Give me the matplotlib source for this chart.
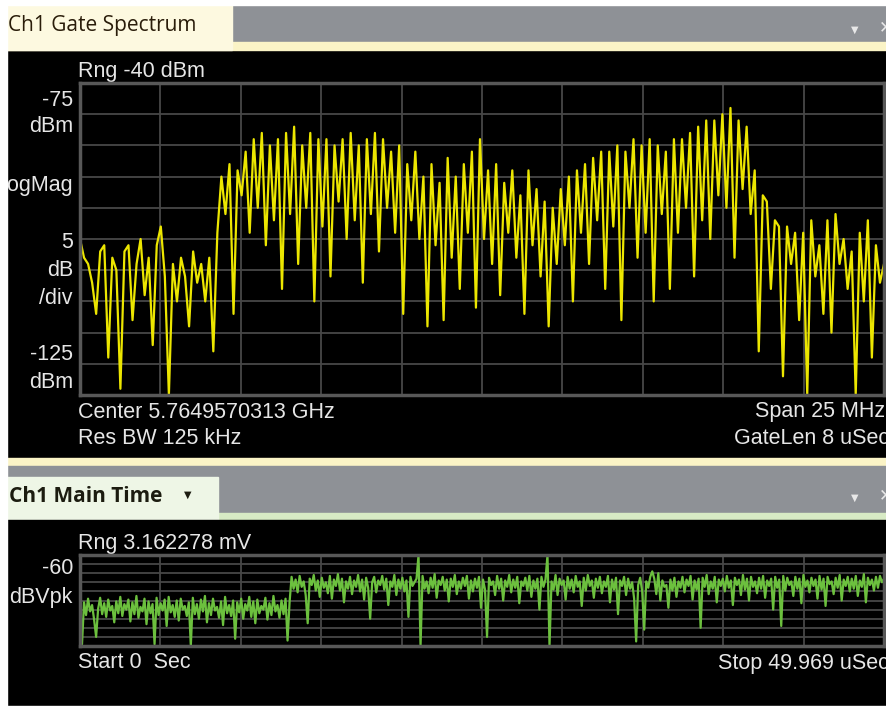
import numpy as np
import matplotlib.pyplot as plt
from matplotlib.patches import Rectangle

W, H = 887, 707

# spectrum trace, dBm, evenly spaced over the 25 MHz span
spec_dbm = [-100, -103, -104, -107, -112, -102, -101, -119, -103, -105,
            -124, -102, -101, -113, -104, -100, -109, -103, -117, -101,
            -98, -106, -125, -104, -110, -103, -106, -114, -102, -107,
            -104, -110, -103, -118, -99, -90, -96, -88, -112, -89,
            -93, -86, -99, -84, -95, -83, -101, -85, -97, -84,
            -108, -83, -96, -82, -104, -85, -95, -83, -110, -84,
            -98, -84, -106, -85, -94, -84, -100, -83, -97, -85,
            -107, -84, -96, -83, -102, -84, -95, -86, -99, -85,
            -112, -88, -97, -86, -100, -90, -114, -88, -101, -91,
            -113, -87, -103, -90, -108, -88, -99, -86, -111, -84,
            -100, -89, -104, -88, -109, -91, -99, -89, -103, -93,
            -112, -89, -101, -92, -106, -94, -114, -95, -104, -92,
            -101, -90, -110, -89, -99, -88, -104, -87, -97, -86,
            -108, -86, -98, -85, -113, -86, -95, -84, -103, -85,
            -99, -84, -110, -85, -96, -86, -108, -84, -99, -84,
            -95, -83, -106, -82, -97, -81, -100, -81, -93, -80,
            -95, -79, -103, -81, -92, -82, -96, -89, -118, -93,
            -94, -108, -97, -98, -122, -98, -104, -99, -113, -99,
            -125, -97, -106, -101, -112, -97, -115, -96, -104, -100,
            -108, -102, -125, -99, -110, -97, -119, -101, -107, -104]

# main time trace, dBVpk, evenly spaced over 0 .. 49.969 us
time_dbv = [
    -110, -158, -112, -126, -108, -122, -115, -131, -150, -119, -107, -125, -113, -128, -109, -121, -116, -134, -111, -124,
    -106, -127, -114, -120, -109, -133, -112, -125, -105, -129, -117, -122, -108, -136, -111, -124, -114, -158, -107, -126,
    -113, -121, -109, -138, -106, -123, -115, -128, -110, -132, -108, -120, -116, -127, -112, -160, -107, -125, -114, -130,
    -109, -122, -105, -134, -113, -126, -108, -121, -117, -129, -111, -137, -106, -124, -115, -127, -110, -152, -112, -123,
    -108, -130, -114, -121, -106, -128, -111, -135, -109, -124, -116, -120, -107, -131, -113, -126, -105, -122, -115, -129,
    -110, -125, -108, -154, -112, -84, -97, -87, -101, -83, -95, -89, -104, -135, -86, -93, -82, -99, -88, -106,
    -85, -96, -90, -102, -83, -108, -87, -94, -81, -99, -86, -112, -89, -97, -84, -103, -88, -95, -82, -100,
    -87, -109, -85, -96, -130, -90, -84, -101, -88, -93, -83, -98, -86, -115, -89, -95, -82, -104, -87, -97,
    -85, -100, -88, -128, -84, -94, -90, -86, -60, -160, -83, -97, -89, -102, -85, -96, -81, -107, -88, -93,
    -84, -99, -87, -111, -86, -95, -82, -103, -89, -97, -85, -94, -83, -108, -88, -100, -86, -96, -84, -118,
    -87, -98, -150, -85, -93, -89, -104, -83, -97, -86, -110, -88, -95, -82, -101, -87, -96, -84, -113, -89,
    -94, -85, -99, -83, -106, -88, -97, -86, -120, -84, -95, -87, -60, -160, -89, -98, -82, -104, -86, -93,
    -88, -109, -84, -97, -87, -101, -83, -95, -89, -116, -85, -99, -82, -94, -88, -107, -86, -96, -84, -102,
    -89, -95, -83, -112, -87, -98, -85, -125, -88, -94, -84, -104, -86, -97, -90, -108, -155, -93, -85, -100,
    -142, -89, -96, -84, -78, -86, -103, -80, -110, -88, -95, -93, -118, -87, -99, -85, -106, -89, -96, -84,
    -101, -87, -94, -83, -109, -88, -98, -86, -140, -85, -95, -82, -103, -89, -97, -84, -112, -87, -94, -86,
    -100, -83, -96, -88, -115, -85, -93, -87, -104, -82, -98, -86, -110, -84, -95, -89, -102, -85, -97, -83,
    -107, -88, -94, -86, -120, -84, -96, -87, -138, -83, -99, -85, -93, -89, -105, -84, -97, -86, -113, -82,
    -95, -88, -101, -85, -94, -87, -108, -83, -98, -86, -116, -84, -92, -89, -103, -85, -96, -82, -110, -87,
    -94, -84, -100, -86, -97, -83, -105, -88, -95, -81, -112, -85, -93, -87, -99, -84, -96, -83, -90, -86]

span_mhz = 25.0
stop_us = 49.969

def pix_axes(fig, x0, y0, x1, y1, z=1):
    return fig.add_axes([x0 / W, 1 - y1 / H, (x1 - x0) / W, (y1 - y0) / H], zorder=z)

fig = plt.figure(figsize=(W / 100, H / 100), dpi=100)
fig.patch.set_facecolor('white')

bg = pix_axes(fig, 0, 0, W, H, 0)
bg.set_xlim(0, W)
bg.set_ylim(H, 0)
bg.axis('off')

# window chrome
bg.add_patch(Rectangle((7, 50), 880, 408, color='black'))
bg.add_patch(Rectangle((7, 5), 880, 37, color='#8e9196'))
bg.add_patch(Rectangle((7, 42), 880, 8, color='#fbf4c6'))
bg.add_patch(Rectangle((5, 5), 227, 45, color='#fdf9e0'))
bg.add_patch(Rectangle((7, 458), 880, 8, color='#fbf4c6'))
bg.add_patch(Rectangle((7, 466), 880, 47, color='#8e9196'))
bg.add_patch(Rectangle((7, 513), 880, 7, color='#d7eac4'))
bg.add_patch(Rectangle((7, 477), 211, 43, color='#eef6e6'))
bg.add_patch(Rectangle((7, 520), 880, 186, color='black'))

ui = ['Open Sans', 'DejaVu Sans']
bg.text(8, 26, 'Ch1 Gate Spectrum', fontsize=15, family=ui, color='#2a1d0a', va='center')
bg.text(9, 497, 'Ch1 Main Time', fontsize=15, family=ui, weight='bold', color='#1c1c10', va='center')
bg.text(188, 495, '\u25BC', fontsize=7, color='#1c1c10', va='center', ha='center')
for yy in (30, 498):
    bg.text(855, yy, '\u25BC', fontsize=7, color='#e8e8e8', va='center', ha='center')
    bg.text(879, yy - 3, '\u2715', fontsize=12, color='#e8e8e8', va='center', ha='left')

txt = dict(color='#e6e6e6', fontsize=15.5, family=['Liberation Sans', 'DejaVu Sans'], va='center')
bg.text(78, 71, 'Rng -40 dBm', ha='left', **txt)
for s, yy in [('-75', 100), ('dBm', 126), ('LogMag', 186), ('5', 242), ('dB', 270),
              ('/div', 298), ('-125', 355), ('dBm', 383), ('-60', 569), ('dBVpk', 597)]:
    bg.text(73, yy, s, ha='right', **txt)
bg.text(78, 412, 'Center 5.7649570313 GHz', ha='left', **txt)
bg.text(78, 438, 'Res BW 125 kHz', ha='left', **txt)
bg.text(885, 412, 'Span 25 MHz', ha='right', **txt)
bg.text(889, 438, 'GateLen 8 uSec', ha='right', **txt)
bg.text(78, 543, 'Rng 3.162278 mV', ha='left', **txt)
bg.text(78, 663, 'Start 0  Sec', ha='left', **txt)
bg.text(889, 663, 'Stop 49.969 uSec', ha='right', **txt)

grid_c = '#474747'
frame_c = '#585858'

def style(ax):
    ax.set_facecolor('black')
    ax.grid(True, color=grid_c, lw=1.3)
    ax.tick_params(length=0, labelleft=False, labelbottom=False)
    for sp in ax.spines.values():
        sp.set_color(frame_c)
        sp.set_linewidth(2.5)

# spectrum
ax1 = pix_axes(fig, 80, 83, 884, 395)
f = np.linspace(-span_mhz / 2, span_mhz / 2, len(spec_dbm))
ax1.plot(f, spec_dbm, color='#ece600', lw=1.6)
ax1.set_xlim(-span_mhz / 2, span_mhz / 2)
ax1.set_ylim(-125, -75)
ax1.set_xticks(np.linspace(-span_mhz / 2, span_mhz / 2, 11))
ax1.set_yticks(np.arange(-125, -74, 5))
style(ax1)

# time
ax2 = pix_axes(fig, 80, 555, 884, 646)
t = np.linspace(0, stop_us, len(time_dbv))
ax2.plot(t, time_dbv, color='#6cc03e', lw=1.6)
ax2.set_xlim(0, stop_us)
ax2.set_ylim(-160, -60)
ax2.set_xticks(np.linspace(0, stop_us, 11))
ax2.set_yticks(np.arange(-160, -59, 10))
style(ax2)

# white left margin over clipped labels
top = pix_axes(fig, 0, 0, W, H, 5)
top.set_xlim(0, W)
top.set_ylim(H, 0)
top.axis('off')
top.add_patch(Rectangle((0, 0), 7, H, color='white'))
top.add_patch(Rectangle((0, 0), W, 5, color='white'))
top.add_patch(Rectangle((0, 706), W, 1, color='white'))

fig.savefig('out.png', dpi=100, facecolor='white')
